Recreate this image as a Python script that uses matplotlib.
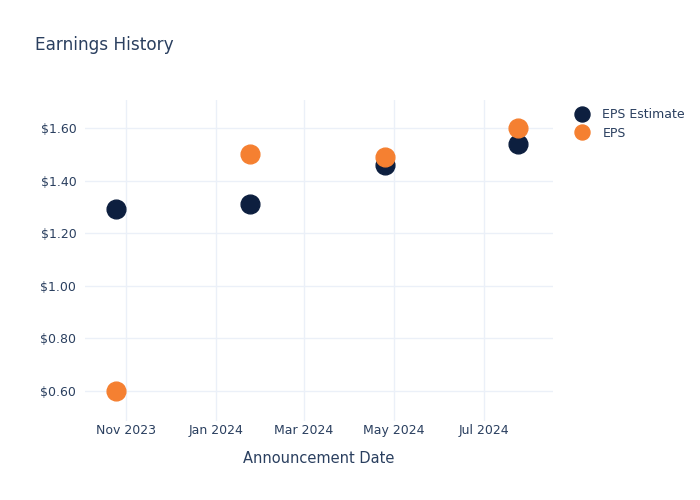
import pandas as pd
import matplotlib.pyplot as plt
import matplotlib.dates as mdates
from matplotlib.ticker import FuncFormatter

# Earnings data
dates = pd.to_datetime(['2023-10-25', '2024-01-24', '2024-04-25', '2024-07-24'])
eps_estimate = [1.29, 1.31, 1.46, 1.54]
eps_actual = [0.60, 1.50, 1.49, 1.60]

text_color = '#2a3f5f'
grid_color = '#ebf0f8'

fig = plt.figure(figsize=(7, 5), dpi=100)
ax = fig.add_axes([0.121, 0.158, 0.669, 0.642])

ax.plot(dates, eps_estimate, 'o', color='#0d1f3f', markersize=13.5, label='EPS Estimate', zorder=3)
ax.plot(dates, eps_actual, 'o', color='#f58031', markersize=13.5, label='EPS', zorder=4)

ax.set_xlim(pd.Timestamp('2023-10-04'), pd.Timestamp('2024-08-17'))
ax.set_ylim(0.486, 1.706)

ax.xaxis.set_major_locator(mdates.MonthLocator(bymonth=[1, 3, 5, 7, 11]))
ax.xaxis.set_major_formatter(mdates.DateFormatter('%b %Y'))
ax.set_yticks([0.6, 0.8, 1.0, 1.2, 1.4, 1.6])
ax.yaxis.set_major_formatter(FuncFormatter(lambda v, p: '${:.2f}'.format(v)))

ax.grid(True, color=grid_color, linewidth=1)
ax.set_axisbelow(True)
for s in ax.spines.values():
    s.set_visible(False)
ax.tick_params(length=0, labelsize=9, colors=text_color)
ax.tick_params(axis='x', pad=2)
ax.tick_params(axis='y', pad=6)

ax.set_xlabel('Announcement Date', fontsize=10.5, color=text_color, labelpad=10)
fig.text(0.05, 0.9, 'Earnings History', fontsize=12.2, color=text_color)

leg = ax.legend(loc='upper left', bbox_to_anchor=(0.807, 0.794), bbox_transform=fig.transFigure,
                frameon=False, fontsize=9, labelcolor=text_color, handletextpad=0.6,
                labelspacing=0.45, markerscale=0.8, borderaxespad=0)

fig.savefig('out.png', dpi=100)
